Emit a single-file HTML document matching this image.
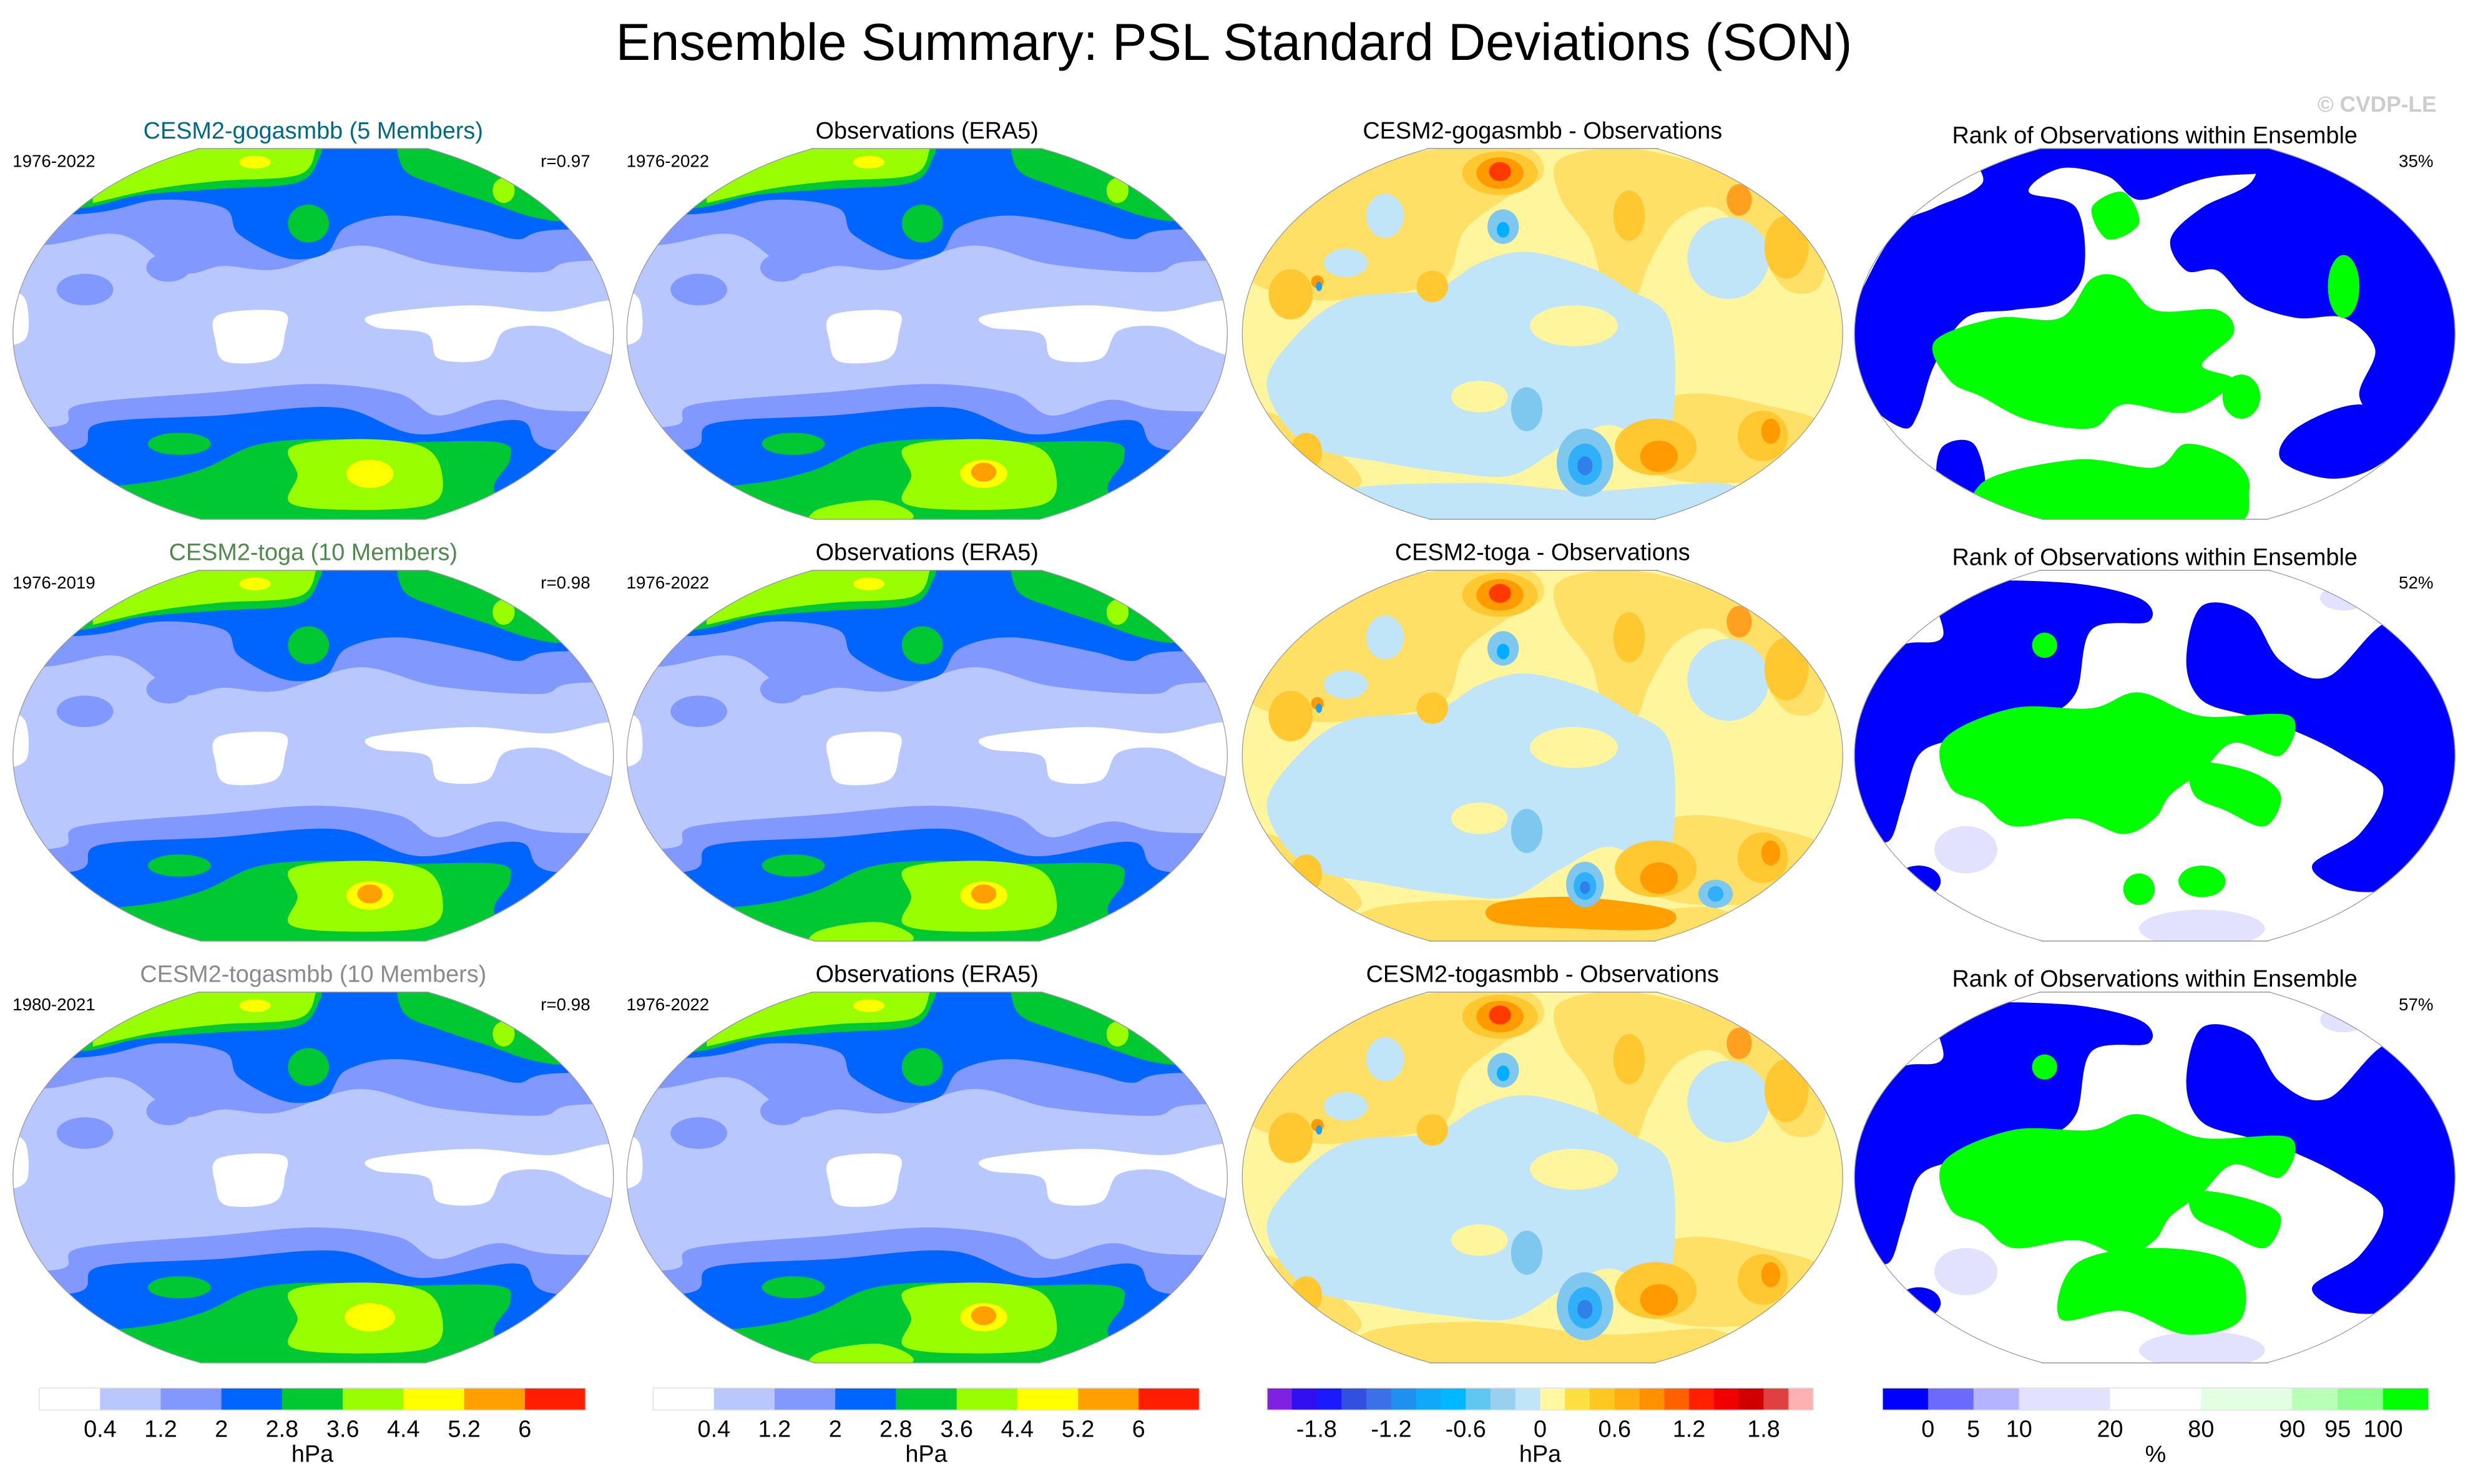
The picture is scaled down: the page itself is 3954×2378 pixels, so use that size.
<!DOCTYPE html>
<html><head><meta charset="utf-8"><style>
html,body{margin:0;padding:0;background:#fff;width:3954px;height:2378px;overflow:hidden;}
svg{display:block;font-family:"Liberation Sans",Arial,sans-serif;}
</style></head><body>
<svg id="fig" xmlns="http://www.w3.org/2000/svg" width="3954" height="2378" viewBox="0 0 1568 943" preserveAspectRatio="none">
<defs>
<clipPath id="mapclip" clipPathUnits="userSpaceOnUse"><ellipse cx="0" cy="0" rx="191" ry="127.4"/></clipPath>
<clipPath id="rectclip" clipPathUnits="userSpaceOnUse"><rect x="-200" y="-117.6" width="400" height="235.6"/></clipPath>
</defs>
<text x="784" y="38" font-size="33" text-anchor="middle" fill="#000">Ensemble Summary: PSL Standard Deviations (SON)</text>
<text x="1548" y="71" font-size="14" font-weight="bold" text-anchor="end" fill="#cccccc">© CVDP-LE</text>
<g id="maps"></g>
<g id="bars"></g>
</svg>
<script>
// ---- colorbar data ----
const sdColors = ["#ffffff","#b8c8ff","#8098ff","#0064ff","#00c832","#99ff00","#ffff00","#ffa000","#ff1e00"];
const sdLabels = ["0.4","1.2","2","2.8","3.6","4.4","5.2","6"];
const diffColors = ["#8020e0","#3010f0","#1a1aff","#3050e0","#3a70e8","#2090f0","#10a8f8","#00b8ff","#60c8f0","#98d0f0","#c0e4f8","#fff8a0","#ffe040","#ffc820","#ffb010","#ff9000","#ff6000","#ff2000","#f00000","#d00000","#e04040","#ffb0b0"];
const diffLabels = ["-1.8","-1.2","-0.6","0","0.6","1.2","1.8"];
const diffLabelValues = [-1.8,-1.2,-0.6,0,0.6,1.2,1.8];
const rankColors = ["#0000ff","#6a6aff","#b3b3ff","#e2e2ff","#ffffff","#e2ffe2","#b8ffb8","#8eff8e","#00ff00"];
const rankLabels = ["0","5","10","20","80","90","95","100"];
const rankSpans = [1,1,1,2,2,2,1,1,1];

const NS="http://www.w3.org/2000/svg";
function mk(tag,attrs,parent){const e=document.createElementNS(NS,tag);for(const k in attrs)e.setAttribute(k,attrs[k]);if(parent)parent.appendChild(e);return e;}

function seg(p0,p1,p2,p3){
  const c1x=p1[0]+(p2[0]-p0[0])/6,c1y=p1[1]+(p2[1]-p0[1])/6;
  const c2x=p2[0]-(p3[0]-p1[0])/6,c2y=p2[1]-(p3[1]-p1[1])/6;
  return ` C${c1x.toFixed(1)} ${c1y.toFixed(1)} ${c2x.toFixed(1)} ${c2y.toFixed(1)} ${p2[0]} ${p2[1]}`;
}
function smooth(pts){
  const n=pts.length;let d="M"+pts[0][0]+" "+pts[0][1];
  for(let i=0;i<n;i++) d+=seg(pts[(i-1+n)%n],pts[i],pts[(i+1)%n],pts[(i+2)%n]);
  return d+"Z";
}
function openSmooth(pts){
  const n=pts.length;let d="M"+pts[0][0]+" "+pts[0][1];
  for(let i=0;i<n-1;i++) d+=seg(pts[Math.max(i-1,0)],pts[i],pts[i+1],pts[Math.min(i+2,n-1)]);
  return d;
}
// band: edge points left->right; fill towards top or bottom
function bandPath(edge,top){
  const y=top?-200:200;
  const e=[[-260,edge[0][1]]].concat(edge).concat([[260,edge[edge.length-1][1]]]);
  return openSmooth(e)+` L260 ${y} L-260 ${y} Z`;
}
// cap: open edge, closed with straight line back (beyond clip)
function capPath(edge,top){
  const y=top?-200:200;
  return openSmooth(edge)+` L${edge[edge.length-1][0]} ${y} L${edge[0][0]} ${y} Z`;
}
function ell(cx,cy,rx,ry){const p=[];for(let i=0;i<12;i++){const a=i/12*Math.PI*2;p.push([+(cx+rx*Math.cos(a)).toFixed(1),+(cy+ry*Math.sin(a)).toFixed(1)]);}return p;}
const FULL="M-260 -200 L260 -200 L260 200 L-260 200Z";

// ---- map layer definitions (local coords) -> [color, pathString]
function sdLayers(variant){
  const L=[];
  L.push(["#b8c8ff",FULL]);
  L.push(["#ffffff",smooth([[-60,-12],[-20,-14],[-18,0],[-25,16],[-55,18],[-62,5]])]);
  L.push(["#ffffff",smooth([[38,-12],[100,-18],[150,-14],[194,-20],[196,12],[175,8],[150,-4],[122,-2],[110,16],[80,16],[72,0],[40,-4]])]);
  L.push(["#ffffff",smooth([[-196,-25],[-183,-22],[-182,2],[-196,5]])]);
  L.push(["#8098ff",bandPath([[-174,-56],[-123,-63],[-85,-39],[-57,-43],[-22,-41],[29,-56],[79,-44],[143,-39],[168,-46]],true)]);
  L.push(["#8098ff",smooth(ell(-145,-28,18,10))]);
  L.push(["#8098ff",smooth(ell(-92,-42,14,9))]);
  L.push(["#0064ff",bandPath([[-148,-76],[-98,-85],[-57,-80],[-47,-63],[-17,-48],[8,-51],[21,-68],[54,-75],[105,-66],[130,-60],[155,-66]],true)]);
  L.push(["#00c832",capPath([[-200,-78],[-146,-80],[-110,-88],[-60,-92],[-10,-96],[4,-112],[6,-125]],true)]);
  L.push(["#00c832",capPath([[52,-125],[58,-104],[80,-94],[110,-84],[140,-74],[165,-72],[200,-82]],true)]);
  L.push(["#00c832",smooth(ell(-3,-70,13,12))]);
  L.push(["#99ff00",capPath([[-140,-83],[-100,-92],[-60,-97],[-9,-101],[2,-118]],true)]);
  L.push(["#99ff00",smooth(ell(121,-91,7,8))]);
  L.push(["#ffff00",smooth(ell(-37,-109,10,4))]);
  L.push(["#8098ff",bandPath([[-164,59],[-148,45],[-60,37],[3,32],[54,38],[79,52],[117,42],[155,49]],false)]);
  L.push(["#0064ff",bandPath([[-154,74],[-136,57],[-60,52],[16,47],[67,64],[130,55],[153,74]],false)]);
  L.push(["#00c832",capPath([[-200,100],[-118,96],[-73,87],[-37,71],[3,67],[54,69],[117,69],[125,80],[115,100],[140,120]],false)]);
  L.push(["#00c832",smooth(ell(-85,70,20,7))]);
  if(variant.obs) L.push(["#99ff00",smooth([[-70,112],[-30,106],[-10,118],[-70,125]])]);
  L.push(["#99ff00",smooth([[-14,72],[30,67],[70,72],[82,90],[75,108],[30,112],[-14,108],[-10,90]])]);
  L.push(["#ffff00",smooth(ell(36,89,variant.ys||15,9))]);
  if(variant.orange) L.push(["#ffa000",smooth(ell(36,88,8,6))]);
  return L;
}
function diffLayers(row){
  const L=[];const S=p=>smooth(p);
  L.push(["#fff59d",FULL]);
  L.push(["#ffe066",S([[-190,-40],[-160,-85],[-110,-108],[-60,-118],[-10,-118],[0,-100],[-25,-85],[-50,-65],[-62,-35],[-100,-25],[-150,-22]])]);
  L.push(["#ffe066",S([[10,-110],[50,-118],[100,-108],[150,-88],[178,-60],[176,-30],[155,-28],[135,-55],[110,-80],[85,-72],[68,-45],[58,-22],[40,-30],[30,-60],[12,-85]])]);
  L.push(["#ffe066",S([[-190,50],[-160,55],[-130,75],[-115,95],[-140,102],[-180,85]])]);
  L.push(["#ffe066",S([[55,50],[95,38],[140,45],[178,58],[165,88],[120,95],[80,92],[60,78]])]);
  if(row>0) L.push(["#ffe066",S([[-110,98],[-40,92],[40,100],[110,97],[115,118],[-110,118]])]);
  L.push(["#c0e4f8",S([[-160,5],[-125,-22],[-70,-28],[-40,-45],[-10,-52],[30,-42],[55,-28],[80,-10],[84,40],[75,70],[42,58],[12,72],[-20,90],[-60,88],[-100,82],[-150,70],[-175,35]])]);
  L.push(["#c0e4f8",S(ell(118,-48,26,26))]);
  L.push(["#c0e4f8",S(ell(-100,-75,12,14))]);
  L.push(["#c0e4f8",S(ell(-125,-45,14,9))]);
  if(row===0) L.push(["#c0e4f8",S([[-130,100],[-40,95],[30,100],[120,96],[130,125],[-130,125]])]);
  L.push(["#fff59d",S(ell(20,-5,28,13))]);
  L.push(["#fff59d",S(ell(-40,40,18,10))]);
  L.push(["#ffc830",S(ell(-160,-25,14,16))]);
  L.push(["#ffc830",S(ell(-70,-30,10,10))]);
  L.push(["#ffc830",S(ell(55,-75,10,16))]);
  L.push(["#ffc830",S(ell(155,-55,14,20))]);
  L.push(["#ffc830",S(ell(-150,75,10,12))]);
  L.push(["#ffc830",S(ell(72,72,26,18))]);
  L.push(["#ffc830",S(ell(140,65,16,16))]);
  L.push(["#ffc830",S(ell(-27,-102,24,14))]);
  L.push(["#ff9a00",S(ell(-27,-102,15,10))]);
  L.push(["#ff3a00",S(ell(-27,-103,7,6))]);
  L.push(["#ffa020",S(ell(125,-85,8,10))]);
  L.push(["#ff9a00",S(ell(74,78,12,10))]);
  L.push(["#ff9a00",S(ell(145,62,6,8))]);
  if(row===1){L.push(["#ffa000",S([[-30,94],[20,90],[80,98],[75,110],[20,110],[-30,106]])]);}
  L.push(["#7ec8f0",S(ell(-25,-68,10,11))]);
  L.push(["#00b0ff",S(ell(-25,-66,4,5))]);
  L.push(["#7ec8f0",S(ell(-10,48,10,14))]);
  if(row===1){L.push(["#7ec8f0",S(ell(110,88,11,9))]);L.push(["#30b0f8",S(ell(110,88,5,5))]);}
  const big=row===1?0.8:1.2;
  L.push(["#7ec8f0",S(ell(27,82,15*big,18*big))]);
  L.push(["#30b0f8",S(ell(27,83,9*big,11*big))]);
  L.push(["#3080e8",S(ell(27,84,4*big,5*big))]);
  L.push(["#ff9a00",S(ell(-143,-33,4,4))]);
  L.push(["#20a0f0",S(ell(-142,-30,2,3))]);
  return L;
}
function rankLayers(row){
  const L=[];const S=p=>smooth(p);
  L.push(["#ffffff",FULL]);
  if(row>0){
    L.push(["#e2e2ff",S(ell(-120,60,20,15))]);L.push(["#e2e2ff",S(ell(30,110,40,12))]);L.push(["#e2e2ff",S(ell(60,-40,15,10))]);
    L.push(["#e2e2ff",S(ell(-170,20,12,20))]);L.push(["#e2e2ff",S(ell(120,-100,15,8))]);
  }
  if(row===0){
    L.push(["#0000ff",S([[-100,-125],[80,-125],[85,-105],[40,-100],[20,-95],[-10,-85],[-30,-100],[-60,-105],[-80,-90],[-50,-80],[-45,-40],[-60,-20],[-90,-15],[-120,-10],[-140,20],[-150,50],[-160,60],[-185,40],[-195,0],[-180,-40],[-160,-70],[-140,-80],[-110,-95]])]);
    L.push(["#0000ff",S([[30,-80],[60,-95],[80,-120],[150,-85],[190,-30],[195,20],[180,60],[150,60],[130,40],[140,10],[120,-10],[90,-10],[60,-20],[40,-40],[20,-40],[10,-60]])]);
    L.push(["#0000ff",S([[90,60],[130,45],[165,60],[140,85],[110,92],[80,80]])]);
    L.push(["#0000ff",S([[-135,72],[-115,70],[-108,100],[-125,112],[-138,95]])]);
    L.push(["#0000ff",S(ell(25,-3,15,9))]);
    L.push(["#00ff00",S([[-140,5],[-100,-10],[-60,-10],[-40,-35],[-20,-35],[0,-15],[40,-15],[50,0],[30,20],[50,30],[20,50],[-20,45],[-40,60],[-80,55],[-110,40],[-130,30]])]);
    L.push(["#00ff00",S([[-40,-80],[-20,-90],[-10,-70],[-30,-60]])]);
    L.push(["#00ff00",S([[-110,95],[-50,80],[0,85],[20,70],[50,80],[60,100],[40,125],[-100,125]])]);
    L.push(["#00ff00",S(ell(55,40,12,14))]);
    L.push(["#00ff00",S(ell(120,-30,10,20))]);
  } else {
    const d=row===2?4:0;
    L.push(["#0000ff",S([[-134,-107],[-60,-110],[-10,-100],[-4,-85],[-40,-80],[-50,-40],[-70,-25],[-100,-20],[-130,-10],[-150,0],[-160,30],[-170,55],[-190,40],[-195,0],[-180,-50],[-160,-70],[-135,-75]])]);
    L.push(["#0000ff",S([[30,-95],[60,-90],[80,-60],[110,-50],[150,-85],[180,-50],[195,0],[190,40],[170,70],[150,85],[120,85],[100,70],[130,50],[145,20],[120,0],[90,-15],[60,-25],[30,-35],[20,-60]])]);
    L.push(["#0000ff",S(ell(25,-5,16,10))]);
    L.push(["#0000ff",S(ell(-150,80,14,10))]);
    L.push(["#00ff00",S([[-134,-10],[-90,-30],[-40,-30],[-10,-40],[30,-25],[86,-25],[80,0],[50,-8],[30,10],[10,25],[0,40],[-20,50],[-50,40],[-90,45],[-110,30],[-130,20]])]);
    L.push(["#00ff00",S([[25,5+d],[60,10+d],[80,25],[70,45],[45,35],[25,25]])]);
    if(row===2){L.push(["#00ff00",S([[-50,55],[0,45],[50,55],[55,90],[20,100],[-20,85],[-60,90]])]);}
    else {L.push(["#00ff00",S(ell(-10,85,10,10))]);L.push(["#00ff00",S(ell(30,80,15,10))]);}
    L.push(["#00ff00",S(ell(-70,-70,8,8))]);
  }
  return L;
}

// ---- layout ----
const colX=[199,589,980,1369], rowY=[212,480,748];
const modelTitles=[["CESM2-gogasmbb (5 Members)","#006a84"],["CESM2-toga (10 Members)","#4f8a4a"],["CESM2-togasmbb (10 Members)","#8a8a8a"]];
const modelYears=["1976-2022","1976-2019","1980-2021"];
const rVals=["r=0.97","r=0.98","r=0.98"];
const diffTitles=["CESM2-gogasmbb - Observations","CESM2-toga - Observations","CESM2-togasmbb - Observations"];
const rankPct=["35%","52%","57%"];
const maps=document.getElementById("maps");

function drawMap(ci,ri,layers,name){
  const g=mk("g",{transform:`translate(${colX[ci]},${rowY[ri]})`},maps);
  
  
  const c1=mk("g",{"clip-path":"url(#rectclip)"},g);
  const c2=mk("g",{"clip-path":"url(#mapclip)"},c1);
  layers.forEach(l=>{mk("path",{d:l[1],fill:l[0]},c2);});
  mk("ellipse",{cx:0,cy:0,rx:191,ry:127.4,fill:"none",stroke:"#999","stroke-width":1},c2);
  mk("line",{x1:-73.5,y1:-117.6,x2:73.5,y2:-117.6,stroke:"#999","stroke-width":0.6},g);
  mk("line",{x1:-72,y1:118,x2:72,y2:118,stroke:"#999","stroke-width":0.6},g);
}
function txt(x,y,s,size,anchor,fill,name){
  const t=mk("text",{x:x,y:y,"font-size":size,"text-anchor":anchor,fill:fill},maps);
  t.textContent=s;
  
  
}
for(let r=0;r<3;r++){
  const ty=rowY[r]-124;
  drawMap(0,r,sdLayers({orange:r===1,ys:r===2?16:15}),"model-sd-map-row"+(r+1));
  drawMap(1,r,sdLayers({obs:true,orange:true}),"obs-sd-map-row"+(r+1));
  drawMap(2,r,diffLayers(r),"difference-map-row"+(r+1));
  drawMap(3,r,rankLayers(r),"rank-map-row"+(r+1));
  txt(colX[0],ty,modelTitles[r][0],15,"middle",modelTitles[r][1],"model-title-row"+(r+1));
  txt(colX[1],ty,"Observations (ERA5)",15,"middle","#000","obs-title-row"+(r+1));
  txt(colX[2],ty,diffTitles[r],15,"middle","#000","diff-title-row"+(r+1));
  txt(colX[3],ty+3,"Rank of Observations within Ensemble",15,"middle","#000","rank-title-row"+(r+1));
  txt(8,rowY[r]-106,modelYears[r],11,"start","#000","model-years-row"+(r+1));
  txt(375,rowY[r]-106,rVals[r],11,"end","#000","pattern-correlation-row"+(r+1));
  txt(398,rowY[r]-106,"1976-2022",11,"start","#000","obs-years-row"+(r+1));
  txt(1546,rowY[r]-106,rankPct[r],11,"end","#000","rank-percent-row"+(r+1));
}

// ---- colorbars ----
const bars=document.getElementById("bars");
const barY=882, barH=14;
function colorbar(x0,x1,colors,spans,labels,labelPos,unit,name){
  const g=mk("g",{},bars);
  
  
  const total=spans.reduce((a,b)=>a+b,0);const w=(x1-x0)/total;
  let x=x0;const edges=[x0];
  colors.forEach((c,i)=>{
    const r=mk("rect",{x:x,y:barY,width:w*spans[i]+0.3,height:barH,fill:c},g);
    
    
    x+=w*spans[i];edges.push(x);
  });
  mk("rect",{x:x0,y:barY,width:x1-x0,height:barH,fill:"none",stroke:"#e0e0e0","stroke-width":0.6},g);
  labels.forEach((s,i)=>{
    const t=mk("text",{x:labelPos(i,edges,w).toFixed(1),y:913,"font-size":15,"text-anchor":"middle",fill:"#000"},g);
    t.textContent=s;
    
    
  });
  const u=mk("text",{x:(x0+x1)/2,y:929,"font-size":15,"text-anchor":"middle",fill:"#000"},g);
  u.textContent=unit;
  
  
}
const ones=n=>Array(n).fill(1);
colorbar(25,372,sdColors,ones(sdColors.length),sdLabels,(i,e)=>e[i+1],"hPa","model-colorbar");
colorbar(415,762,sdColors,ones(sdColors.length),sdLabels,(i,e)=>e[i+1],"hPa","obs-colorbar");
colorbar(805,1152,diffColors,ones(diffColors.length),diffLabels,(i,e,w)=>805+(diffLabelValues[i]+2.2)/0.2*w,"hPa","difference-colorbar");
colorbar(1196,1543,rankColors,rankSpans,rankLabels,(i,e)=>e[i+1],"%","rank-colorbar");
</script>
</body></html>
